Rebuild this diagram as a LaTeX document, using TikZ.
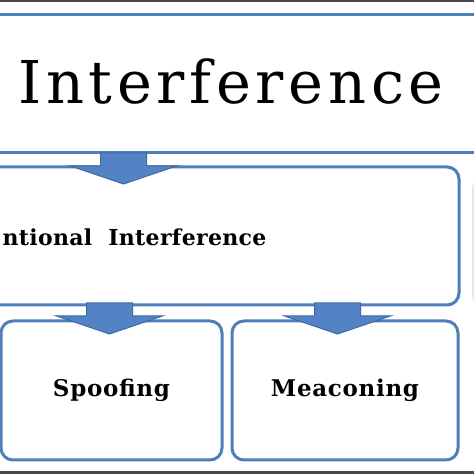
\documentclass[tikz,border=0pt]{standalone}
\usepackage{fontspec}
\setmainfont{DejaVu Serif}
\usetikzlibrary{calc,positioning}
\definecolor{boxblue}{HTML}{4F7FBA}
\definecolor{arrowfill}{HTML}{5383C4}
\definecolor{arrowline}{HTML}{3D6BA6}
\definecolor{edgegray}{HTML}{4A4A4A}
\tikzstyle{box}       = [rectangle, draw=boxblue, line width=3pt, minimum height=138pt]
\tikzstyle{rbox}      = [box, rounded corners=12pt]
\tikzstyle{label}     = [font=\bfseries\addfontfeature{LetterSpace=3}\fontsize{23}{27}\selectfont, text=black]
\tikzstyle{blockarrow}= [draw=arrowline, fill=arrowfill, line width=1pt, line join=miter]
\tikzset{downarrow/.pic={
    \draw[blockarrow] (-23,0) -- (23,0) -- (23,-13) -- (53,-13) -- (0,-31) -- (-53,-13) -- (-23,-13) -- cycle;
}}

\begin{document}
\begin{tikzpicture}[x=1pt,y=1pt]
        \useasboundingbox (0,0) rectangle (474,474);
        \clip (0,0) rectangle (474,474);
        \fill[white] (0,0) rectangle (474,474);

        \node[box, minimum width=520pt] (top) at (237,390) {};
        \node[font=\addfontfeature{LetterSpace=8}\fontsize{59}{66}\selectfont] (toptext) at (231,392) {Interference};

        \node[rbox, minimum width=609pt] (mid) at (154.5,238) {};
        \node[label, font=\bfseries\addfontfeature{LetterSpace=1.5}\fontsize{22}{26}\selectfont, anchor=west] (midtext) at (-1,237) {ntional\ \ Interference};
        \node[rbox, draw=boxblue!18, line width=2pt, minimum width=130pt, minimum height=130pt, anchor=west] (side) at (472,232) {};

        \node[rbox, minimum width=221pt, minimum height=139pt] (spoof) at (111.5,83.5) {};
        \node[label] (spooftext) at (spoof) {Spoofing};
        \node[rbox, minimum width=226pt, minimum height=139pt] (meac) at (345,83.5) {};
        \node[label] (meactext) at (meac) {Meaconing};

        \path (top.south -| 123.5,0) ++(0,1.5) pic {downarrow};
        \path (mid.south -| spoof) ++(-2,3.5) pic {downarrow};
        \path (mid.south -| meac) ++(-7.5,3.5) pic {downarrow};

        \fill[edgegray] (0,471.5) rectangle (474,474);
        \fill[edgegray] (0,0) rectangle (474,3);
    \end{tikzpicture}
\end{document}
